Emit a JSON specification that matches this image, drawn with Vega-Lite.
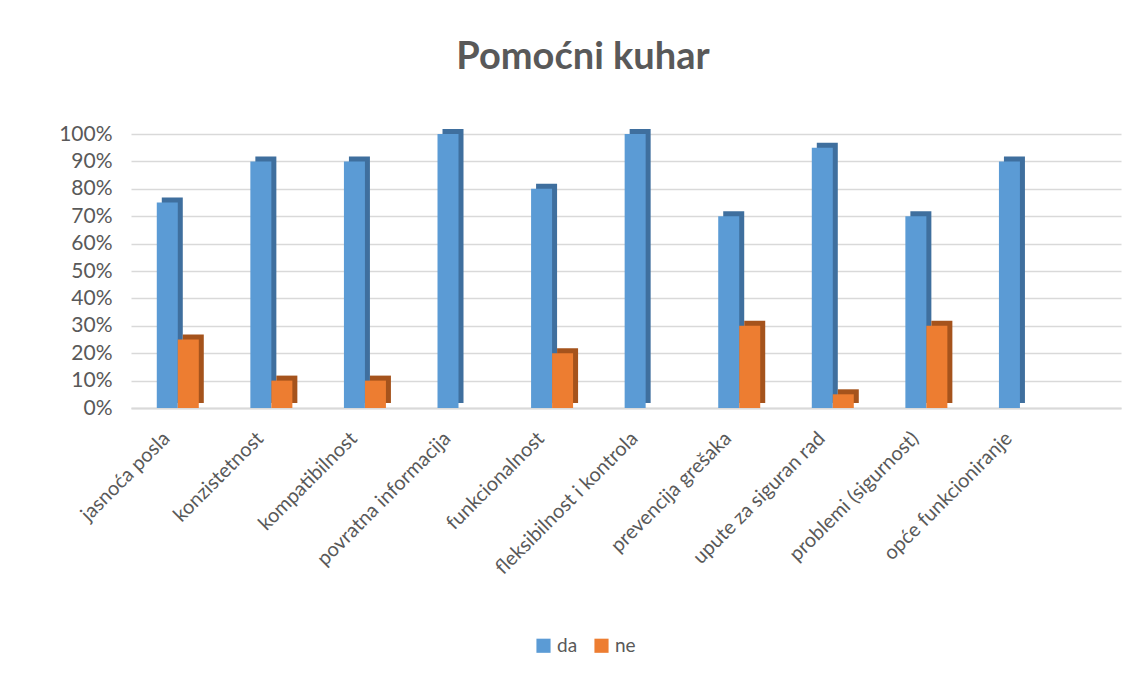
{
  "$schema": "https://vega.github.io/schema/vega-lite/v6.json",
  "autosize": {"type": "none"},
  "width": 990,
  "height": 274,
  "padding": {"left": 131, "top": 134, "right": 24, "bottom": 267},
  "background": "white",
  "title": {"text": "Pomoćni kuhar", "fontSize": 38, "font": "Lato", "fontWeight": "bold", "color": "#595959", "anchor": "middle", "offset": 46, "dx": -43, "frame": "group"},
  "data": {"values": [
    {"kategorija": "jasnoća posla", "serija": "da", "vrijednost": 0.75},
    {"kategorija": "jasnoća posla", "serija": "ne", "vrijednost": 0.25},
    {"kategorija": "konzistetnost", "serija": "da", "vrijednost": 0.90},
    {"kategorija": "konzistetnost", "serija": "ne", "vrijednost": 0.10},
    {"kategorija": "kompatibilnost", "serija": "da", "vrijednost": 0.90},
    {"kategorija": "kompatibilnost", "serija": "ne", "vrijednost": 0.10},
    {"kategorija": "povratna informacija", "serija": "da", "vrijednost": 1.00},
    {"kategorija": "povratna informacija", "serija": "ne", "vrijednost": 0.0},
    {"kategorija": "funkcionalnost", "serija": "da", "vrijednost": 0.80},
    {"kategorija": "funkcionalnost", "serija": "ne", "vrijednost": 0.20},
    {"kategorija": "fleksibilnost i kontrola", "serija": "da", "vrijednost": 1.00},
    {"kategorija": "fleksibilnost i kontrola", "serija": "ne", "vrijednost": 0.0},
    {"kategorija": "prevencija grešaka", "serija": "da", "vrijednost": 0.70},
    {"kategorija": "prevencija grešaka", "serija": "ne", "vrijednost": 0.30},
    {"kategorija": "upute za siguran rad", "serija": "da", "vrijednost": 0.95},
    {"kategorija": "upute za siguran rad", "serija": "ne", "vrijednost": 0.05},
    {"kategorija": "problemi (sigurnost)", "serija": "da", "vrijednost": 0.70},
    {"kategorija": "problemi (sigurnost)", "serija": "ne", "vrijednost": 0.30},
    {"kategorija": "opće funkcioniranje", "serija": "da", "vrijednost": 0.90},
    {"kategorija": "opće funkcioniranje", "serija": "ne", "vrijednost": 0.0}
  ]},
  "encoding": {
    "x": {
      "field": "kategorija", "type": "nominal", "sort": null,
      "scale": {"paddingInner": 0, "paddingOuter": 0.29, "align": 0},
      "axis": {"title": null, "labelAngle": -45, "labelFontSize": 20, "labelFont": "Lato", "labelColor": "#595959", "labelLimit": 400, "domainColor": "#D9D9D9", "domainWidth": 2, "ticks": false, "labelPadding": 20, "labelOffset": -18, "grid": false}
    },
    "y": {
      "field": "vrijednost", "type": "quantitative",
      "scale": {"domain": [0, 1], "nice": false},
      "axis": {"title": null, "values": [0, 0.1, 0.2, 0.3, 0.4, 0.5, 0.6, 0.7, 0.8, 0.9, 1], "format": ".0%", "labelFontSize": 21, "labelFont": "Lato", "labelColor": "#595959", "domain": false, "ticks": false, "labelPadding": 19, "gridColor": "#D9D9D9", "gridWidth": 1.5}
    }
  },
  "layer": [
    {
      "transform": [{"filter": "datum.serija === 'da'"}],
      "mark": {"type": "bar", "width": 21, "xOffset": -5.5, "yOffset": -5, "color": "#3F6F9E"}
    },
    {
      "transform": [{"filter": "datum.serija === 'da'"}],
      "mark": {"type": "bar", "width": 21, "xOffset": -10.5},
      "encoding": {
        "color": {
          "field": "serija", "type": "nominal",
          "scale": {"domain": ["da", "ne"], "range": ["#5B9BD5", "#ED7D31"]},
          "legend": {"title": null, "orient": "none", "direction": "horizontal", "legendX": 403, "legendY": 502, "symbolType": "square", "symbolSize": 200, "labelFontSize": 19, "labelFont": "Lato", "labelColor": "#595959", "columnPadding": 14, "symbolStrokeWidth": 0}
        }
      }
    },
    {
      "transform": [{"filter": "datum.serija === 'ne'"}],
      "mark": {"type": "bar", "width": 21, "xOffset": 15.5, "yOffset": -5, "color": "#A5531C"}
    },
    {
      "transform": [{"filter": "datum.serija === 'ne'"}],
      "mark": {"type": "bar", "width": 21, "xOffset": 10.5},
      "encoding": {
        "color": {
          "field": "serija", "type": "nominal",
          "scale": {"domain": ["da", "ne"], "range": ["#5B9BD5", "#ED7D31"]}
        }
      }
    }
  ],
  "config": {"view": {"stroke": null}}
}
